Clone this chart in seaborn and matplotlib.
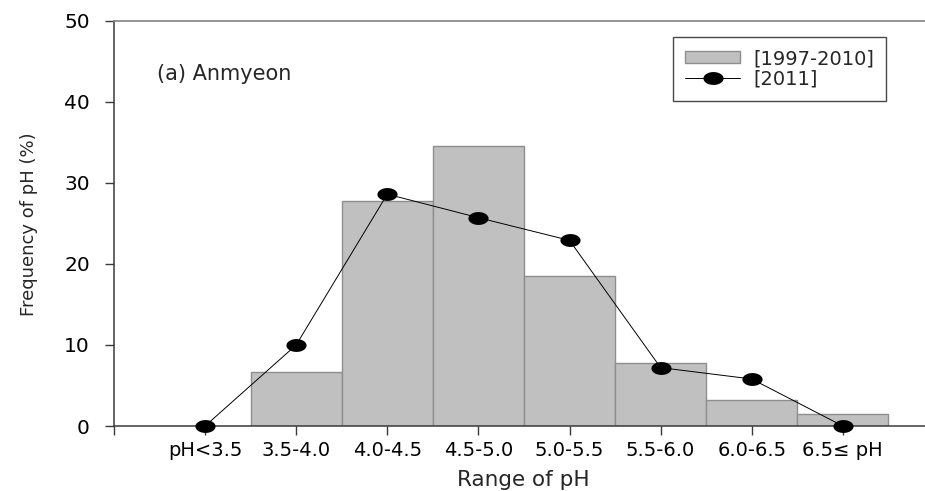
import numpy as np
import pandas as pd
import matplotlib
matplotlib.use("Agg")
import matplotlib.pyplot as plt
from matplotlib.patches import Patch
from matplotlib.lines import Line2D
from matplotlib.path import Path
import seaborn as sns

# pH ranges and frequency (%) of occurrence
ph_ranges = ["pH<3.5", "3.5-4.0", "4.0-4.5", "4.5-5.0",
             "5.0-5.5", "5.5-6.0", "6.0-6.5", "6.5\u2264 pH"]
freq_1997_2010 = [0.0, 6.7, 27.7, 34.5, 18.5, 7.8, 3.2, 1.5]
freq_2011 = [0.0, 10.0, 28.6, 25.7, 22.9, 7.2, 5.8, 0.0]

y_ticks = [0, 10, 20, 30, 40, 50]
panel_label = "(a) Anmyeon"
legend_labels = ["[1997-2010]", "[2011]"]

sns.set_style("white")
plt.rcParams["font.family"] = ["DejaVu Sans"]

bar_face = "#c0c0c0"
bar_edge = "#8e8e8e"

# flattened ellipse marker for the 2011 series
theta = np.linspace(0, 2 * np.pi, 60)
ellipse = Path(np.column_stack([np.cos(theta), 0.64 * np.sin(theta)]), closed=True)

fig = plt.figure(figsize=(9.25, 4.91), dpi=100)
ax = fig.add_axes([114 / 925, 65 / 491, 1 - 114 / 925, 405.3 / 491])

df = pd.DataFrame({"range": ph_ranges,
                   "hist": freq_1997_2010,
                   "recent": freq_2011,
                   "pos": np.arange(len(ph_ranges))})

sns.barplot(data=df, x="range", y="hist", order=ph_ranges, width=1.0,
            color=bar_face, edgecolor=bar_edge, linewidth=1.0,
            saturation=1, ax=ax, zorder=2)
for p in ax.patches:
    p.set_facecolor(bar_face)

sns.lineplot(data=df, x="pos", y="recent", color="black", linewidth=0.7,
             marker=ellipse, markersize=14.5, markeredgewidth=0,
             markerfacecolor="black", ax=ax, zorder=4, clip_on=False)

ax.set_xlim(-1, -1 + 811 / 91.1)
ax.set_ylim(0, 50)
ax.set_xticks(np.arange(-1, len(ph_ranges)))
ax.set_xticklabels([""] + ph_ranges)
ax.set_yticks(y_ticks)
ax.set_yticklabels([str(v) for v in y_ticks])

for side in ["left", "bottom"]:
    ax.spines[side].set_color("#3a3a3a")
    ax.spines[side].set_linewidth(1.1)
ax.spines["top"].set_color("#8a8a8a")
ax.spines["top"].set_linewidth(1.3)
ax.spines["right"].set_visible(False)

ax.tick_params(axis="both", direction="out", length=6.3, width=1.0,
               color="#3a3a3a", labelcolor="black")
ax.tick_params(axis="y", labelsize=14.5, pad=11)
ax.tick_params(axis="x", labelsize=14, pad=4.5)
ax.tick_params(bottom=True, left=True)

ax.set_xlabel("Range of pH", fontsize=15.5)
ax.xaxis.set_label_coords((523 - 114) / 811, (426 - 470) / 405.3)
ax.set_ylabel("Frequency of pH (%)", fontsize=13)
ax.yaxis.set_label_coords((38 - 114) / 811, (426 - 224.5) / 405.3)

ax.text((157 - 114) / 811, (426 - 80) / 405.3, panel_label,
        transform=ax.transAxes, fontsize=15, va="baseline", ha="left")

handles = [
    Patch(facecolor=bar_face, edgecolor=bar_edge, linewidth=1.0),
    Line2D([], [], color="black", linewidth=0.7, marker=ellipse,
           markersize=14.5, markeredgewidth=0, markerfacecolor="black"),
]
leg = ax.legend(handles, legend_labels, loc="upper left",
                bbox_to_anchor=((673 - 114) / 811, (426 - 37) / 405.3),
                fontsize=14, frameon=True, fancybox=False, borderaxespad=0,
                handlelength=2.85, handleheight=0.6, handletextpad=0.65,
                labelspacing=0.08, borderpad=0.62)
leg.get_frame().set_edgecolor("#1a1a1a")
leg.get_frame().set_linewidth(1.0)

fig.savefig("out.png", dpi=100)
